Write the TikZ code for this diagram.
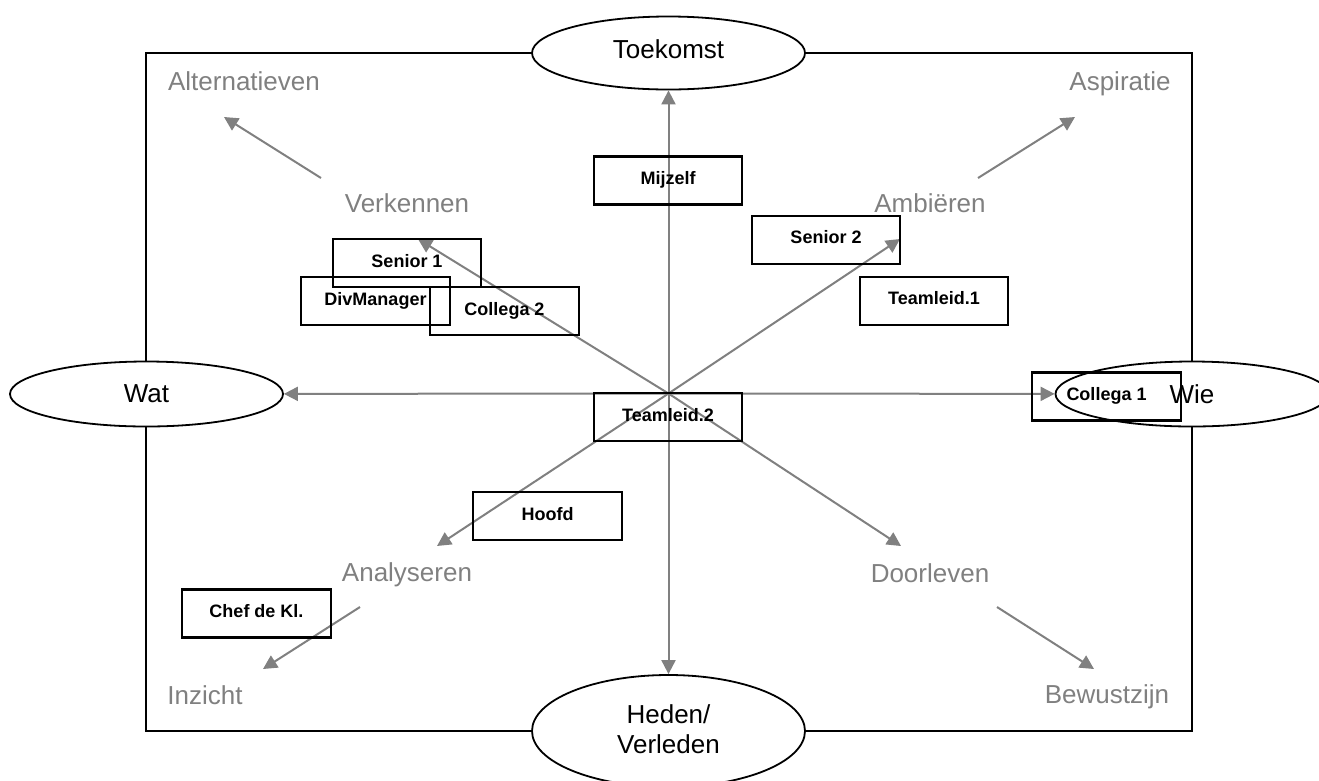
\documentclass[tikz,border=0pt]{standalone}
\usepackage{fontspec}
\setmainfont{Liberation Sans}
\usetikzlibrary{shapes.geometric,arrows.meta}
\definecolor{lblgray}{RGB}{128,128,128}
\newcommand\dn[2]{\raisebox{-#1pt}[0pt][0pt]{#2}}
\begin{document}
\begin{tikzpicture}[x=1pt,y=-1pt,
  ell/.style={ellipse, draw=black, line width=1.8pt, fill=white, inner sep=0pt, minimum width=273pt, font=\fontsize{26}{30}\selectfont},
  box/.style={draw=black, line width=2.2pt, inner sep=0pt, minimum width=148.5pt, minimum height=48pt, font=\fontsize{18}{22}\selectfont\bfseries},
  lbl/.style={text=lblgray, inner sep=0pt, anchor=base, font=\fontsize{26}{30}\selectfont},
  arr/.style={draw=lblgray, line width=2pt, -{Triangle[length=14pt,width=14pt]}},
]
\useasboundingbox (0,0) rectangle (1319,780);
\draw[line width=2pt] (146,53) rectangle (1192,731);

% axis ellipses
\node[ell, minimum height=73pt] (toek) at (668.5,53) {\dn{5}{Toekomst}};
\node[ell, minimum height=65pt] (wat) at (146.5,394) {\dn{8}{Wat}};
\node[ell, minimum height=65pt] (wie) at (1192,394) {\dn{9}{Wie}};
\node[ell, minimum height=112pt] (heden) at (668.5,731) {\dn{22}{\begin{tabular}[b]{@{}c@{}}Heden/\\Verleden\end{tabular}}};

% centre and arrow end points
\coordinate (c) at (668.5,393.5);
\coordinate (ul) at (418,239);
\coordinate (ur) at (900,239);
\coordinate (ll) at (437,546);
\coordinate (lr) at (901,546);

\draw[arr] (c) -- (toek);
\draw[arr] (c) -- (heden);
\draw[arr] (c) -- (wat);
\draw[arr] (c) -- (wie);
\draw[arr] (c) -- (ul);
\draw[arr] (c) -- (ur);
\draw[arr] (c) -- (ll);
\draw[arr] (c) -- (lr);

% gray labels
\node[lbl] (alt) at (244,90) {Alternatieven};
\node[lbl] (asp) at (1120,90) {Aspiratie};
\node[lbl] (verk) at (407,212) {Verkennen};
\node[lbl] (amb) at (930,212) {Ambiëren};
\node[lbl] (anal) at (407,581) {Analyseren};
\node[lbl] (door) at (930,582) {Doorleven};
\node[lbl] (inz) at (205,704) {Inzicht};
\node[lbl] (bew) at (1107,703) {Bewustzijn};

% small arrows
\coordinate (a1s) at (321,178); \coordinate (a1e) at (224,117);
\coordinate (a2s) at (978,178); \coordinate (a2e) at (1075,117);
\coordinate (a3s) at (360,607); \coordinate (a3e) at (263,669);
\coordinate (a4s) at (997,607); \coordinate (a4e) at (1094,669);
\draw[arr] (a1s) -- (a1e);
\draw[arr] (a2s) -- (a2e);
\draw[arr] (a3s) -- (a3e);
\draw[arr] (a4s) -- (a4e);

% boxes
\node[box] (mijzelf) at (668,180.5) {\dn{4}{Mijzelf}};
\node[box] (senior1) at (407,263) {\dn{4}{Senior 1}};
\node[box] (divman) at (375.5,301) {\dn{4}{DivManager}};
\node[box] (collega2) at (504.5,311) {\dn{4}{Collega 2}};
\node[box] (senior2) at (826,240) {\dn{3.5}{Senior 2}};
\node[box] (teamleid1) at (934,301) {\dn{3.5}{Teamleid.1}};
\node[box] (teamleid2) at (668,417) {\dn{4}{Teamleid.2}};
\node[box] (collega1) at (1106.5,396.5) {\dn{4}{Collega 1}};
\node[box] (hoofd) at (547.5,516) {\dn{4}{Hoofd}};
\node[box] (chef) at (256.5,613.5) {\dn{3.5}{Chef de Kl.}};
\end{tikzpicture}
\end{document}
